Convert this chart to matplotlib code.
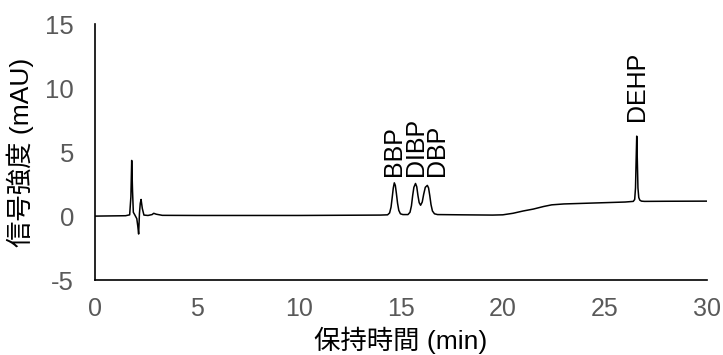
import matplotlib
matplotlib.use("Agg")
import matplotlib.pyplot as plt

plt.rcParams['font.family'] = ['Liberation Sans', 'Noto Sans CJK JP', 'DejaVu Sans']
plt.rcParams['axes.unicode_minus'] = False

# クロマトグラム (保持時間 min, 信号強度 mAU)
time_min = [
    0.0, 1.0, 1.5, 1.7, 1.76, 1.8, 1.84, 1.88, 1.95, 2.05, 2.1, 2.14,
    2.18, 2.22, 2.26, 2.32, 2.4, 2.6, 2.8, 2.88, 3.0, 3.3, 5.0, 10.0,
    14.0, 14.35, 14.45, 14.52, 14.58, 14.63, 14.68, 14.73, 14.78, 14.84,
    14.9, 14.98, 15.1, 15.35, 15.45, 15.52, 15.58, 15.64, 15.72, 15.78,
    15.84, 15.9, 15.97, 16.05, 16.12, 16.2, 16.3, 16.36, 16.42, 16.48,
    16.55, 16.65, 16.8, 18.0, 19.5, 20.0, 20.5, 21.0, 21.5, 22.0, 22.4,
    23.0, 24.0, 25.0, 26.0, 26.4, 26.47, 26.51, 26.54, 26.57, 26.6,
    26.63, 26.67, 26.72, 26.8, 26.95, 28.0, 30.0,
]
signal_mau = [
    0.0, 0.02, 0.03, 0.1, 1.5, 4.35, 2.0, 0.3, 0.1, -0.2, -0.8, -1.4,
    0.2, 1.0, 1.3, 0.6, 0.08, 0.05, 0.12, 0.22, 0.15, 0.06, 0.05, 0.05,
    0.08, 0.1, 0.25, 0.7, 1.5, 2.2, 2.6, 2.4, 1.8, 1.0,
    0.45, 0.18, 0.12, 0.12, 0.3, 0.8, 1.6, 2.25, 2.55, 2.3,
    1.6, 1.05, 0.85, 1.1, 1.7, 2.25, 2.4, 2.2, 1.6, 0.9,
    0.4, 0.18, 0.12, 0.1, 0.08, 0.1, 0.22, 0.4, 0.55, 0.75, 0.88,
    0.95, 1.0, 1.05, 1.1, 1.15, 1.3, 2.2, 4.3, 6.25, 4.3,
    2.2, 1.45, 1.25, 1.17, 1.15, 1.16, 1.17,
]

# ピーク名と注記位置 (min, mAU)
peak_names = ['BBP', 'DIBP', 'DBP', 'DEHP']
label_x = [14.66, 15.72, 16.78, 26.6]
label_y = [3.1, 3.1, 3.1, 7.4]

x_ticks = [0, 5, 10, 15, 20, 25, 30]
y_ticks = [-5, 0, 5, 10, 15]

fig = plt.figure(figsize=(7.23, 3.55), dpi=100)
ax = fig.add_axes([0.1314, 0.211, 0.846, 0.721])

ax.plot(time_min, signal_mau, color='black', lw=1.1)

for name, x, y in zip(peak_names, label_x, label_y):
    ax.text(x, y, name, rotation=90, ha='center', va='bottom', fontsize=18)

ax.set_xlim(0, 30)
ax.set_ylim(-5, 15)
ax.set_xticks(x_ticks)
ax.set_yticks(y_ticks)
ax.tick_params(axis='x', length=0, labelsize=18, labelcolor='#595959', pad=12)
ax.tick_params(axis='y', length=0, labelsize=18.5, labelcolor='#595959', pad=15)

for side in ['top', 'right']:
    ax.spines[side].set_visible(False)
for side in ['left', 'bottom']:
    ax.spines[side].set_linewidth(1.2)

ax.set_xlabel('保持時間 (min)', fontsize=19, labelpad=4)
ax.set_ylabel('信号強度 (mAU)', fontsize=19, labelpad=8)

fig.savefig('out.png', dpi=100)
